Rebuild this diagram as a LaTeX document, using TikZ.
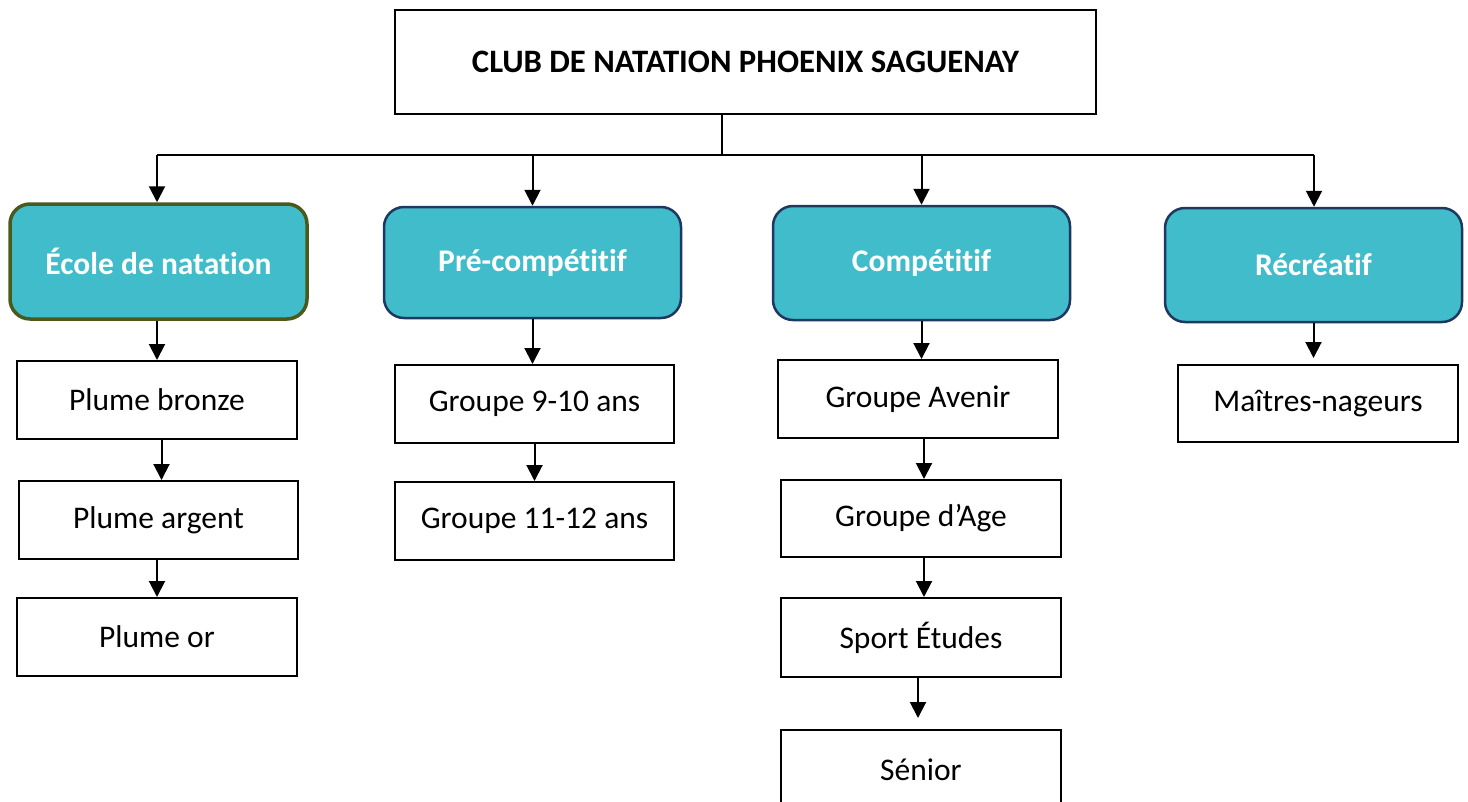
\documentclass[tikz,border=0pt]{standalone}
\usepackage{fontspec}
\setmainfont{Carlito}[Ligatures=CommonOff]
\usetikzlibrary{arrows.meta}
\definecolor{tealfill}{HTML}{40BCCA}
\definecolor{navyline}{HTML}{1F3860}
\definecolor{oliveline}{HTML}{4A5A1C}
\tikzset{
  wbox/.style={draw=black, line width=2pt, fill=white, inner sep=0pt,
    font=\fontsize{31.5}{38}\selectfont},
  tbox/.style={draw=navyline, line width=2.5pt, fill=tealfill, rounded corners=20pt,
    inner sep=0pt, minimum width=297pt, text=white,
    font=\fontsize{31.5}{38}\selectfont\bfseries},
  conn/.style={line width=2pt, draw=black},
  arr/.style={conn, -{Triangle[width=16pt,length=16pt]}},
}
\begin{document}
\begin{tikzpicture}[x=1pt,y=-1pt]
\useasboundingbox (0,0) rectangle (1468,801);
% title
\node[wbox, minimum width=701pt, minimum height=104pt, font=\fontsize{32.7}{38}\selectfont\bfseries]
  (title) at (745.5,62) {CLUB DE NATATION PHOENIX SAGUENAY};
% teal boxes
\node[tbox, draw=oliveline, line width=3.5pt, minimum height=115pt] (ecole) at (158.5,261.5) {École de natation};
\node[tbox, minimum height=111pt] (pre) at (532.5,262.5) {Pré-compétitif};
\node[tbox, minimum height=114pt] (comp) at (921.5,263) {Compétitif};
\node[tbox, minimum height=114pt] (rec) at (1313.5,265) {Récréatif};
% white boxes
\node[wbox, minimum width=280pt, minimum height=78pt] (bronze) at (157,400) {Plume bronze};
\node[wbox, minimum width=279pt, minimum height=78pt] (argent) at (158.5,520) {Plume argent};
\node[wbox, minimum width=280pt, minimum height=78pt] (or) at (157,637) {Plume or};
\node[wbox, minimum width=279pt, minimum height=78pt] (g910) at (534.5,404) {Groupe 9-10 ans};
\node[wbox, minimum width=279pt, minimum height=78pt] (g1112) at (534.5,521) {Groupe 11-12 ans};
\node[wbox, minimum width=280pt, minimum height=78pt] (avenir) at (918,399) {Groupe Avenir};
\node[wbox, minimum width=280pt, minimum height=77pt] (age) at (921,518.5) {Groupe d’Age};
\node[wbox, minimum width=280pt, minimum height=79pt] (sport) at (921,637.5) {Sport Études};
\node[wbox, minimum width=280pt, minimum height=80pt] (senior) at (921,770) {Sénior};
\node[wbox, minimum width=280pt, minimum height=77pt] (maitres) at (1318,403.5) {Maîtres-nageurs};
% bus
\coordinate (junc) at (722,155);
\coordinate (busL) at (157,155);
\coordinate (busR) at (1314,155);
\draw[conn] (title.south -| junc) -- (junc);
\draw[conn] (busL) -- (busR);
\draw[arr] (busL) -- (busL |- ecole.north);
\draw[arr] (pre.north |- busL) -- (pre.north);
\draw[arr] (comp.north |- busL) -- (comp.north);
\draw[arr] (busR) -- (busR |- rec.north);
% chains
\draw[arr] (bronze.north |- ecole.south) -- (bronze.north);
\draw[arr] ([xshift=3pt]argent.north |- bronze.south) -- ([xshift=3pt]argent.north);
\draw[arr] (or.north |- argent.south) -- (or.north);
\draw[arr] (pre.south) -- (pre.south |- g910.north);
\draw[arr] (g1112.north |- g910.south) -- (g1112.north);
\draw[arr] (comp.south) -- (comp.south |- avenir.north);
\draw[arr] ([xshift=3pt]age.north |- avenir.south) -- ([xshift=3pt]age.north);
\draw[arr] ([xshift=3pt]sport.north |- age.south) -- ([xshift=3pt]sport.north);
\draw[arr] ([xshift=-3pt]sport.south) -- ([xshift=-3pt,yshift=11pt]senior.north);
\draw[arr] (rec.south) -- ([yshift=6pt]rec.south |- maitres.north);
\end{tikzpicture}
\end{document}
